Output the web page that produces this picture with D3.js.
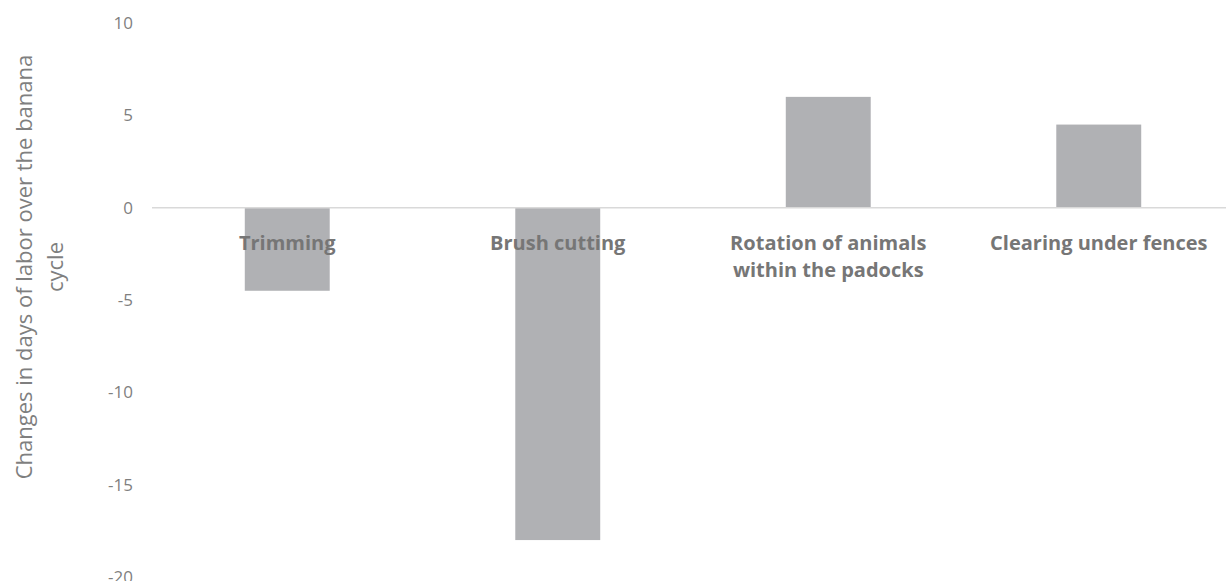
<!DOCTYPE html>
<html>
<head>
<meta charset="utf-8">
<script src="https://cdn.jsdelivr.net/npm/d3@7"></script>
<style>
    body { margin: 0; background: #fff; }
    svg { display: block; font-family: "Open Sans", sans-serif; }
</style>
</head>
<body>
<div id="chart"></div>
<script>
// chart data
var categories = [
    ["Trimming"],
    ["Brush cutting"],
    ["Rotation of animals", "within the padocks"],
    ["Clearing under fences"]
];
var values = [-4.5, -18, 6, 4.5];
var tickValues = [10, 5, 0, -5, -10, -15, -20];
var yTitle = ["Changes in days of labor over the banana", "cycle"];

var width = 1226;
var height = 581;

var svg = d3.select("#chart").append("svg")
    .attr("width", width)
    .attr("height", height);

var keys = categories.map(function (c, i) { return i; });

var x = d3.scaleBand()
    .domain(keys)
    .range([152, 1234])
    .paddingInner(0.686)
    .paddingOuter(0.343);

var y = d3.scaleLinear()
    .domain([-20, 10])
    .range([577, 23]);

// y tick labels (no axis line, no gridlines), plain hyphen for minus
var yAxis = d3.axisLeft(y)
    .tickValues(tickValues)
    .tickSize(0)
    .tickPadding(0)
    .tickFormat(function (d) { return String(d); });

var yg = svg.append("g")
    .attr("transform", "translate(133,0)")
    .call(yAxis);
yg.select(".domain").remove();
yg.selectAll("text")
    .attr("fill", "#7f7f7f")
    .style("font-size", "17px")
    .style("font-family", "'Open Sans', sans-serif");

// bars
svg.append("g").selectAll("rect")
    .data(values)
    .enter().append("rect")
    .attr("x", function (d, i) { return x(i); })
    .attr("y", function (d) { return y(Math.max(0, d)); })
    .attr("width", x.bandwidth())
    .attr("height", function (d) { return Math.abs(y(d) - y(0)); })
    .attr("fill", "#b0b1b4");

// zero line
svg.append("line")
    .attr("x1", x.range()[0])
    .attr("x2", x.range()[1])
    .attr("y1", y(0))
    .attr("y2", y(0))
    .attr("stroke", "#d9d9d9")
    .attr("stroke-width", 1.5);

// category labels, next to the zero line
var labels = svg.append("g").selectAll("text")
    .data(categories)
    .enter().append("text")
    .attr("x", function (d, i) { return x(i) + x.bandwidth() / 2; })
    .attr("y", y(0) + 42)
    .attr("text-anchor", "middle")
    .attr("fill", "#767676")
    .style("font-size", "20px")
    .style("font-weight", "bold");

labels.selectAll("tspan")
    .data(function (d) { return d; })
    .enter().append("tspan")
    .attr("x", function () { return d3.select(this.parentNode).attr("x"); })
    .attr("dy", function (d, i) { return i == 0 ? 0 : 27; })
    .text(function (d) { return d; });

// y axis title
var title = svg.append("text")
    .attr("transform", "translate(0," + ((y(10) + y(-20)) / 2 - 33) + ") rotate(-90)")
    .attr("text-anchor", "middle")
    .attr("fill", "#7f7f7f")
    .style("font-size", "22px");

title.selectAll("tspan")
    .data(yTitle)
    .enter().append("tspan")
    .attr("x", 0)
    .attr("y", function (d, i) { return 32 + i * 31; })
    .text(function (d) { return d; });
</script>
</body>
</html>
